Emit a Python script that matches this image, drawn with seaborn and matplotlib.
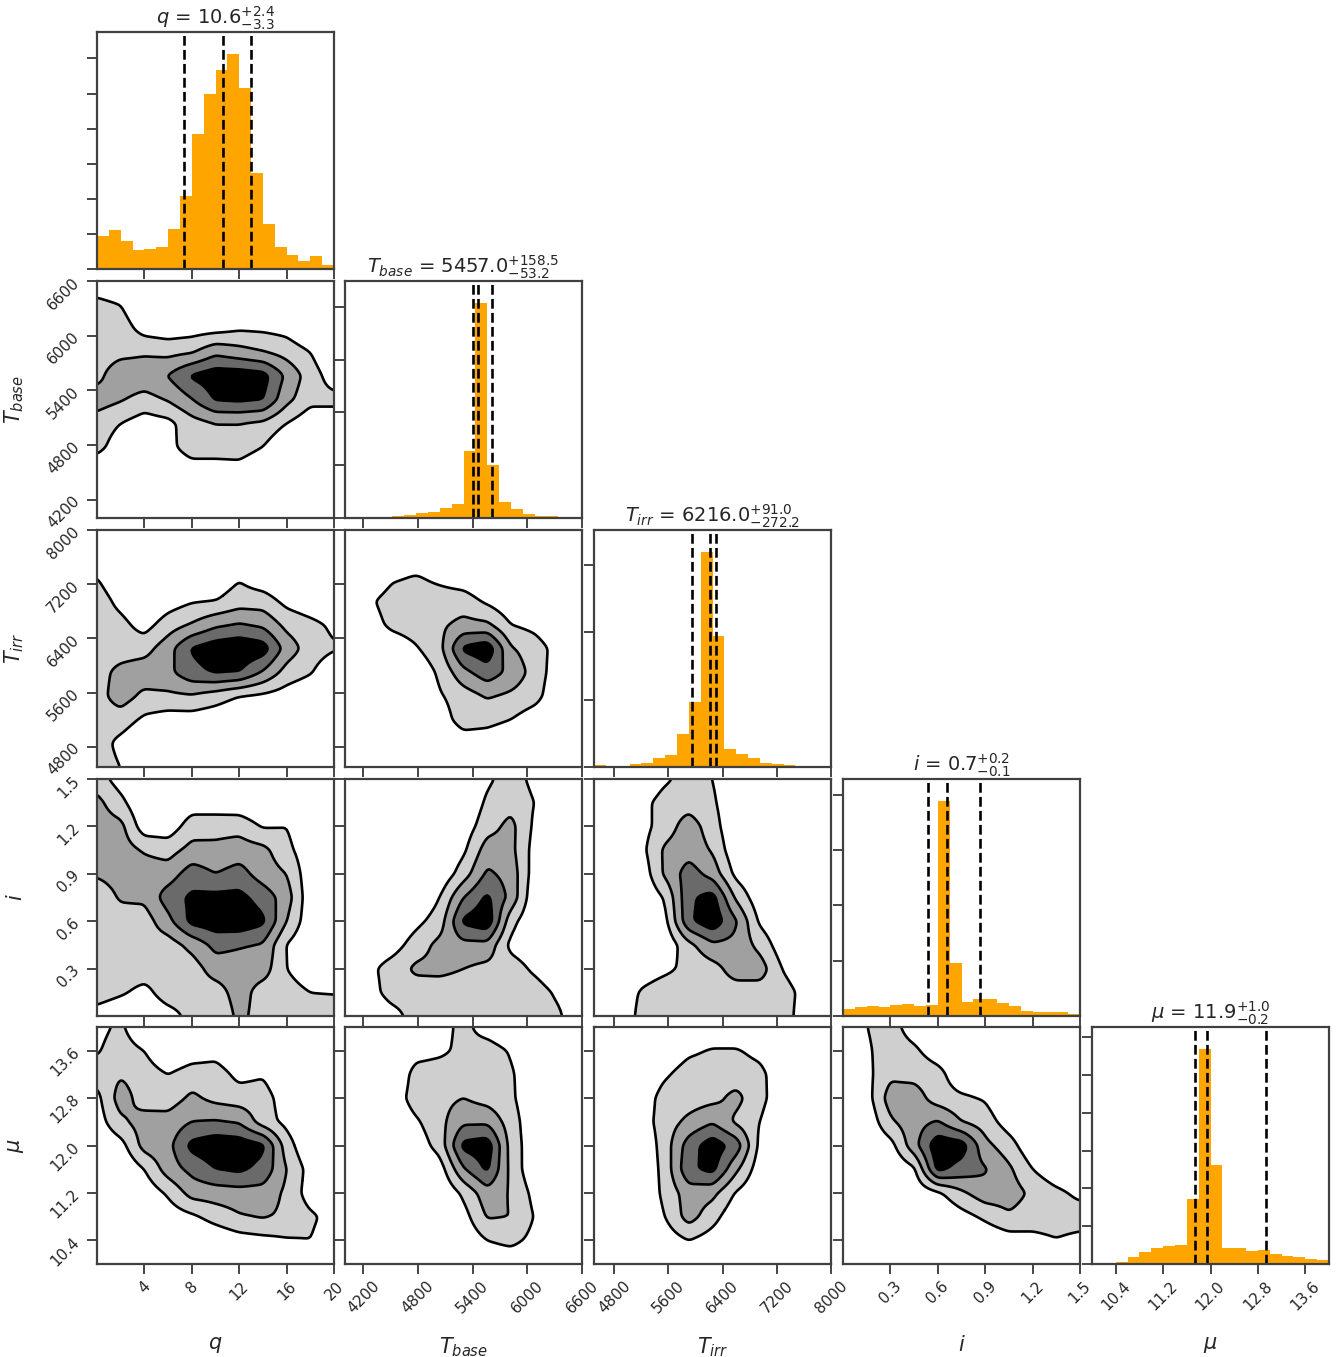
import numpy as np
import pandas as pd
import matplotlib
matplotlib.use("Agg")
import matplotlib.pyplot as plt
from matplotlib.ticker import FixedLocator, MultipleLocator, NullFormatter
import seaborn as sns

sns.set_theme(style="ticks")
plt.rcParams["font.family"] = ["DejaVu Sans"]
plt.rcParams["mathtext.fontset"] = "dejavusans"

# ---------------- data ----------------
labels = [r"$q$", r"$T_{base}$", r"$T_{irr}$", r"$i$", r"$\mu$"]
ranges = [(0.0, 20.0), (4000.0, 6600.0), (4500.0, 8000.0), (0.0, 1.5), (10.0, 14.0)]
tick_q = [4, 8, 12, 16, 20]
tick_Tbase = [4200, 4800, 5400, 6000, 6600]
tick_Tirr = [4800, 5600, 6400, 7200, 8000]
tick_i = [0.3, 0.6, 0.9, 1.2, 1.5]
tick_mu = [10.4, 11.2, 12.0, 12.8, 13.6]

# histogram counts (20 bins over each axis range)
hist_q = [95, 110, 81, 55, 58, 62, 115, 207, 386, 500, 567, 614, 515, 273, 127, 64, 41, 24, 38, 12]
hist_Tbase = [0, 2, 6, 13, 16, 32, 47, 54, 95, 130, 636, 2041, 500, 152, 89, 41, 22, 16, 0, 0]
hist_Tirr = [35, 15, 15, 40, 59, 134, 173, 485, 970, 3193, 1936, 272, 188, 134, 64, 50, 25, 5, 0, 0]
hist_i = [66, 84, 87, 81, 96, 108, 87, 96, 1948, 476, 123, 157, 151, 114, 90, 48, 39, 39, 36, 15]
hist_mu = [0, 0, 31, 97, 159, 211, 233, 247, 859, 2850, 1308, 211, 207, 167, 181, 132, 101, 97, 66, 48]
hist_tick_step = [100, 500, 1000, 500, 500]

# 16th / 50th / 84th percentiles
quant_q = [7.3, 10.6, 13.0]
quant_Tbase = [5403.8, 5457.0, 5615.5]
quant_Tirr = [5943.8, 6216.0, 6307.0]
quant_i = [0.54, 0.66, 0.87]
quant_mu = [11.74, 11.94, 12.94]

# 2-D density level grids (rows: top -> bottom, cols: left -> right, 11 x 11 over axis ranges)
grid_Tbase_q = [
    [0.6, 0, 0, 0, 0, 0, 0, 0, 0, 0, 0],
    [2.6, 2, 0, 0, 0, 0, 0, 0, 0, 0, 0],
    [3, 3, 1.2, 0.8, 1, 1.2, 1.7, 1.6, 1.3, 0, 0],
    [3, 3.4, 3.7, 3.4, 3.8, 5.5, 4.8, 4.1, 3.2, 2, 0],
    [3.4, 5.4, 5.4, 6.1, 8.3, 9.2, 9.2, 8.8, 5.6, 3, 1],
    [5, 4.2, 3.2, 4.2, 5.9, 8.2, 8.4, 8.1, 4.6, 2.6, 2.6],
    [3, 2, 1, 1.4, 3.2, 4, 4, 3.6, 2, 0.6, 0.6],
    [2.6, 1, 0, 1.4, 3, 3, 3.1, 2, 0, 0, 0],
    [0.6, 0, 0, 0.4, 1, 1, 1.1, 0, 0, 0, 0],
    [0, 0, 0, 0, 0, 0, 0, 0, 0, 0, 0],
    [0, 0, 0, 0, 0, 0, 0, 0, 0, 0, 0],
]
grid_Tirr_q = [
    [0, 0, 0, 0, 0, 0, 0, 0, 0, 0, 0],
    [0, 0, 0, 0, 0, 0, 0, 0, 0, 0, 0],
    [2, 0.4, 0, 0, 0, 0.6, 1.8, 0.6, 0, 0, 0],
    [3, 1.4, 0, 1, 1.8, 2, 3, 3, 1.4, 0.6, 0],
    [3, 2.6, 1.2, 3, 4.2, 5.6, 6.2, 5.6, 3.4, 2.6, 1.6],
    [3, 3, 3.2, 5.2, 8.2, 9.2, 9.6, 9.0, 5.2, 3, 2.2],
    [3.2, 4.6, 5.2, 5.5, 7.4, 8.2, 8.0, 5.8, 3.2, 2.2, 0.4],
    [3.2, 5, 3.5, 3.6, 3.8, 3, 2, 1.6, 1, 0.2, 0],
    [3, 3, 1.6, 1, 1, 0.6, 0, 0, 0, 0, 0],
    [3, 1.4, 0, 0, 0, 0, 0, 0, 0, 0, 0],
    [3, 2, 0, 0, 0, 0, 0, 0, 0, 0, 0],
]
grid_Tirr_Tbase = [
    [0, 0, 0, 0, 0, 0, 0, 0, 0, 0, 0],
    [0, 0, 0, 0.2, 0, 0, 0, 0, 0, 0, 0],
    [0, 0, 1.7, 2.2, 1.5, 0.8, 0, 0, 0, 0, 0],
    [0, 1.6, 3, 3, 3, 3, 1.6, 0.4, 0, 0, 0],
    [0, 1.0, 2.5, 3, 3.6, 4.6, 4.4, 2, 1.4, 0.2, 0],
    [0, 0, 0.6, 1.8, 3.4, 8.4, 9.4, 4.2, 3, 1.2, 0],
    [0, 0, 0, 0.4, 2.4, 5.4, 7.2, 5.4, 3.2, 0.8, 0],
    [0, 0, 0, 0, 1.8, 3, 4.2, 3.6, 2.8, 0.4, 0],
    [0, 0, 0, 0, 1, 2.9, 2.7, 2, 0.8, 0, 0],
    [0, 0, 0, 0, 0, 0.9, 0.7, 0, 0, 0, 0],
    [0, 0, 0, 0, 0, 0, 0, 0, 0, 0, 0],
]
grid_i_q = [
    [3, 1, 0, 0, 0, 0, 0, 0, 0, 0, 0],
    [4.6, 2.6, 0, 0, 1, 0.8, 0.6, 0, 0, 0, 0],
    [5, 4.6, 0.8, 0.8, 3, 3.2, 3.3, 1.8, 2, 0, 0],
    [5, 5, 3.8, 3.2, 4.7, 4.6, 5, 4.6, 2.6, 0.6, 0],
    [4.2, 4.6, 5, 5, 7, 6, 6.8, 5, 4, 0.6, 0],
    [3, 4.2, 4.4, 7, 8.4, 8.6, 8.6, 7.2, 5, 0.6, 0],
    [3, 3.2, 3, 5.4, 8.6, 9.2, 9.4, 8.4, 4, 0.6, 0],
    [3, 3, 3, 3, 4.6, 6.6, 6.2, 5.8, 1.9, 0.2, 0],
    [3, 3, 3, 3, 3, 5, 5, 5, 2, 0.4, 0],
    [3, 2.3, 1.4, 3, 3, 3, 5, 3, 3, 2, 1.9],
    [1.1, 0.4, 0.4, 1.2, 2.6, 2, 4.6, 3, 3, 3, 3],
]
grid_i_Tbase = [
    [0, 0, 0, 0, 0, 0, 1.6, 3, 1.4, 0, 0],
    [0, 0, 0, 0, 0, 0, 2.4, 3.4, 2, 0, 0],
    [0, 0, 0, 0, 0, 0.8, 3.2, 4.6, 1.6, 0, 0],
    [0, 0, 0, 0, 0, 1.6, 5, 4.6, 1.2, 0, 0],
    [0, 0, 0, 0, 0.4, 3, 6.4, 5.2, 1, 0, 0],
    [0, 0, 0, 0, 2, 6, 8.4, 5.4, 0.4, 0, 0],
    [0, 0, 0, 1.4, 3, 8.4, 9.4, 2.7, 0.2, 0, 0],
    [0, 0.2, 1, 3, 4.6, 5.4, 5.4, 1.4, 0.6, 0, 0],
    [0, 1.4, 3, 4.4, 4.5, 4, 3.4, 3, 1.6, 0.2, 0],
    [0, 1, 3, 3, 3, 3, 3, 3, 3, 1.6, 0],
    [0, 0, 1.1, 3, 3, 3, 3, 3, 3, 2.4, 0],
]
grid_i_Tirr = [
    [0, 0, 0, 1.6, 3, 2, 0, 0, 0, 0, 0],
    [0, 0, 1.2, 3, 3.2, 2.4, 0, 0, 0, 0, 0],
    [0, 0, 1.2, 3, 5, 3, 0, 0, 0, 0, 0],
    [0, 0, 1.4, 4.4, 5.2, 3.8, 0.4, 0, 0, 0, 0],
    [0, 0, 0.6, 4.4, 7, 5.2, 1.4, 0, 0, 0, 0],
    [0, 0, 0, 2.2, 7.6, 8.8, 3.6, 0.6, 0, 0, 0],
    [0, 0, 0, 1.4, 7.6, 9.4, 6.2, 1.6, 0, 0, 0],
    [0, 0, 0, 0.4, 3.4, 5.6, 5.4, 3.4, 0.6, 0, 0],
    [0, 0, 1, 1.6, 2.5, 3.2, 5, 5, 1.8, 0, 0],
    [0, 0.6, 2.2, 3, 3, 3, 3, 3, 3, 1, 0],
    [0, 0.4, 2.6, 3, 3, 3, 3, 3, 3, 0.6, 0],
]
grid_mu_q = [
    [1.4, 2.4, 0, 0, 0, 0, 0, 0, 0, 0, 0],
    [1.8, 3, 2, 0, 0.8, 1.2, 0, 0, 0, 0, 0],
    [2.8, 3.8, 3, 2, 3, 3, 1.4, 1.8, 0, 0, 0],
    [1.4, 5, 3, 3, 4.4, 3.4, 3, 3, 0.8, 0, 0],
    [1, 3.6, 4.9, 4.8, 6, 6.2, 5.8, 3, 1.4, 0, 0],
    [0.2, 1.2, 4.8, 5.4, 8.6, 9.4, 9.2, 8.4, 3, 0, 0],
    [0, 0, 2, 5, 6.6, 8.0, 8.4, 7.4, 4, 1.2, 0],
    [0, 0, 0.6, 2.3, 4.8, 5, 5.2, 5.2, 3.6, 1, 0],
    [0, 0, 0, 0.8, 1.6, 2.8, 3.8, 4.2, 3.6, 2.4, 1.2],
    [0, 0, 0, 0, 0, 0.4, 1.1, 1.4, 1.8, 2, 0.6],
    [0, 0, 0, 0, 0, 0, 0, 0, 0, 0, 0],
]
grid_mu_Tbase = [
    [0, 0, 0, 0, 1.2, 2.6, 1, 0, 0, 0, 0],
    [0, 0, 0, 1.2, 1.6, 2.5, 3, 1.8, 0.2, 0, 0],
    [0, 0, 0, 2.8, 3, 3, 3, 2.3, 0.3, 0, 0],
    [0, 0, 0.7, 3, 3.4, 4, 3.2, 2.4, 0.3, 0, 0],
    [0, 0, 0.2, 1.7, 3.4, 5.6, 5.6, 3, 0.4, 0, 0],
    [0, 0, 0, 0.8, 2.8, 8.6, 9.2, 3.2, 0.6, 0, 0],
    [0, 0, 0, 0, 1, 5.8, 8.4, 3.4, 0.4, 0, 0],
    [0, 0, 0, 0, 0, 2.4, 5.2, 3.8, 1.4, 0, 0],
    [0, 0, 0, 0, 0, 1.2, 4.2, 4, 1.9, 0, 0],
    [0, 0, 0, 0, 0, 0.4, 2, 2.6, 1.4, 0, 0],
    [0, 0, 0, 0, 0, 0, 0.4, 0.4, 0, 0, 0],
]
grid_mu_Tirr = [
    [0, 0, 0, 0, 0.6, 0.2, 0.2, 0, 0, 0, 0],
    [0, 0, 0, 0.4, 1.6, 2.2, 2.2, 1.4, 0, 0, 0],
    [0, 0, 0, 1.7, 3, 3, 3, 2.6, 0.4, 0, 0],
    [0, 0, 0.6, 3, 3, 3.4, 4.6, 2.6, 0.6, 0, 0],
    [0, 0, 1, 3, 4.5, 5.8, 3.6, 2, 0, 0, 0],
    [0, 0, 0.2, 3, 7.0, 9.2, 7.2, 1.4, 0, 0, 0],
    [0, 0, 0, 2.8, 7.6, 8.6, 4.4, 0.8, 0, 0, 0],
    [0, 0, 0, 2.6, 5, 4.6, 1.8, 0.2, 0, 0, 0],
    [0, 0, 0, 2, 4.9, 2.8, 0.4, 0, 0, 0, 0],
    [0, 0, 0, 0.8, 2, 1, 0, 0, 0, 0, 0],
    [0, 0, 0, 0, 0, 0, 0, 0, 0, 0, 0],
]
grid_mu_i = [
    [0, 2, 2.8, 1, 0, 0, 0, 0, 0, 0, 0],
    [0, 1.7, 3, 2.4, 0.8, 0, 0, 0, 0, 0, 0],
    [0, 1.4, 3.6, 3.4, 2.8, 0.4, 0, 0, 0, 0, 0],
    [0, 1.1, 5, 5, 3, 2.4, 1.8, 0, 0, 0, 0],
    [0, 0.4, 3.7, 5.2, 6.2, 4, 3, 1, 0, 0, 0],
    [0, 0, 1.2, 5.3, 9.4, 9.0, 4.6, 2.9, 0.4, 0, 0],
    [0, 0, 0, 1.6, 8.6, 7.2, 6.2, 4.4, 2, 0.5, 0],
    [0, 0, 0, 0.4, 1.6, 3.6, 5.2, 5, 3.6, 2.5, 1.5],
    [0, 0, 0, 0, 0, 1.2, 2.4, 3.7, 3, 3, 3],
    [0, 0, 0, 0, 0, 0, 0.4, 1, 1.4, 1.9, 1.4],
    [0, 0, 0, 0, 0, 0, 0, 0, 0, 0, 0],
]

ticks = [tick_q, tick_Tbase, tick_Tirr, tick_i, tick_mu]
hists = [hist_q, hist_Tbase, hist_Tirr, hist_i, hist_mu]
quants = [quant_q, quant_Tbase, quant_Tirr, quant_i, quant_mu]
grids = {
    (1, 0): grid_Tbase_q,
    (2, 0): grid_Tirr_q, (2, 1): grid_Tirr_Tbase,
    (3, 0): grid_i_q, (3, 1): grid_i_Tbase, (3, 2): grid_i_Tirr,
    (4, 0): grid_mu_q, (4, 1): grid_mu_Tbase, (4, 2): grid_mu_Tirr, (4, 3): grid_mu_i,
}

# ---------------- helpers ----------------
def refine(grid, n=121, sigma=1.3):
    z = np.asarray(grid, dtype=float)[::-1]
    ny, nx = z.shape
    xc, yc = np.linspace(0, 1, nx), np.linspace(0, 1, ny)
    f = np.linspace(0, 1, n)
    tmp = np.array([np.interp(f, xc, row) for row in z])
    out = np.array([np.interp(f, yc, col) for col in tmp.T]).T
    r = int(3 * sigma)
    k = np.exp(-0.5 * (np.arange(-r, r + 1) / sigma) ** 2)
    k /= k.sum()
    p = np.pad(out, r, mode="edge")
    p = np.apply_along_axis(lambda m: np.convolve(m, k, mode="valid"), 1, p)
    p = np.apply_along_axis(lambda m: np.convolve(m, k, mode="valid"), 0, p)
    return f, p

fill_colors = ["#cfcfcf", "#a0a0a0", "#6a6a6a", "#000000"]
levels = [2, 4, 6, 8]

W, H = 1336, 1357
fig = plt.figure(figsize=(W / 100, H / 100), dpi=100)
col_left = [97, 345, 594, 843, 1092]
row_top = [32, 281, 530, 779, 1027]
size = 237
TICK_FS = 11

for r in range(5):
    for c in range(r + 1):
        ax = fig.add_axes([col_left[c] / W, 1 - (row_top[r] + size) / H, size / W, size / H])
        lo, hi = ranges[c]
        if r == c:
            nb = len(hists[c])
            edges = np.linspace(lo, hi, nb + 1)
            centers = 0.5 * (edges[:-1] + edges[1:])
            df = pd.DataFrame({"value": centers, "count": np.asarray(hists[c], dtype=float)})
            sns.histplot(data=df, x="value", weights="count", bins=nb, binrange=(lo, hi), ax=ax,
                         color="#FFA500", alpha=1.0, linewidth=0)
            ax.set_ylim(0, 1.1 * max(hists[c]))
            ax.yaxis.set_major_locator(MultipleLocator(hist_tick_step[c]))
            for v in quants[c]:
                ax.axvline(v, color="black", ls="--", lw=1.9)
            q16, q50, q84 = quants[c]
            ttl = labels[c] + " = " + f"{q50:.1f}" + "$^{+" + f"{q84 - q50:.1f}" + "}_{-" + f"{q50 - q16:.1f}" + "}$"
            ax.set_title(ttl, fontsize=14, pad=4, color=".15")
            ax.set_ylabel("")
            ax.yaxis.set_major_formatter(NullFormatter())
        else:
            f, z = refine(grids[(r, c)])
            ylo, yhi = ranges[r]
            X = lo + f * (hi - lo)
            Y = ylo + f * (yhi - ylo)
            ax.contourf(X, Y, z, levels=levels + [1e3], colors=fill_colors)
            ax.contour(X, Y, z, levels=levels, colors="black", linewidths=1.9)
            ax.set_ylim(ylo, yhi)
            ax.yaxis.set_major_locator(FixedLocator(ticks[r]))
            if c == 0:
                ax.tick_params(axis="y", labelsize=TICK_FS, labelrotation=45)
                ax.set_ylabel(labels[r], fontsize=15)
                ax.yaxis.set_label_coords(-0.3, 0.5)
            else:
                ax.yaxis.set_major_formatter(NullFormatter())
        ax.set_xlim(lo, hi)
        ax.xaxis.set_major_locator(FixedLocator(ticks[c]))
        if r == 4:
            ax.tick_params(axis="x", labelsize=TICK_FS, labelrotation=45)
            ax.set_xlabel(labels[c], fontsize=15)
            ax.xaxis.set_label_coords(0.5, -0.3)
        else:
            ax.xaxis.set_major_formatter(NullFormatter())
            ax.set_xlabel("")
        ax.tick_params(direction="out", length=7, width=1.2, colors=".15")
        for s in ax.spines.values():
            s.set_linewidth(1.6)
            s.set_color(".25")

fig.savefig("out.png", dpi=100)
